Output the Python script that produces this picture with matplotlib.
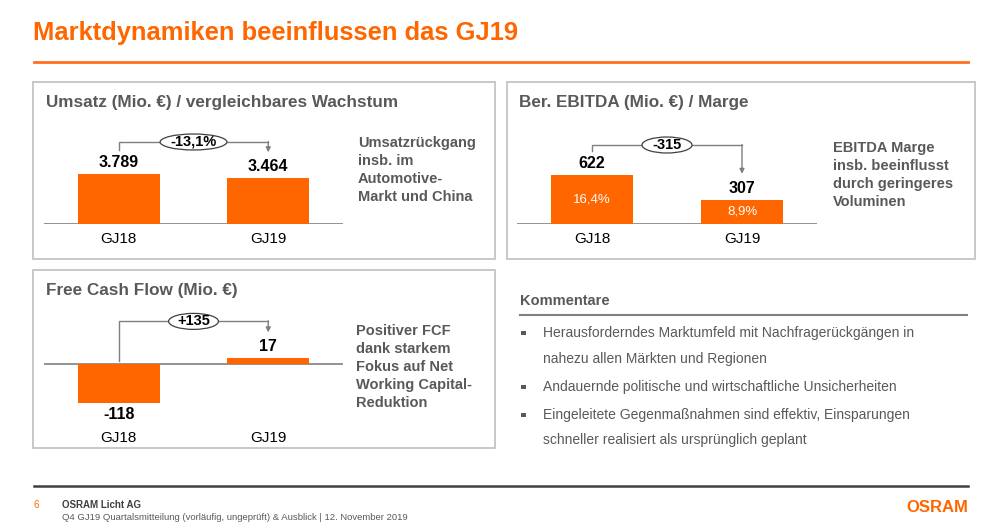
import matplotlib
matplotlib.use("Agg")
import matplotlib.pyplot as plt
from matplotlib.patches import Rectangle, Ellipse
from matplotlib.transforms import blended_transform_factory

plt.rcParams['font.family'] = ['Liberation Sans', 'DejaVu Sans']

# ---------------- data ----------------
categories = ["GJ18", "GJ19"]
umsatz = [3789, 3464]
umsatz_labels = ["3.789", "3.464"]
umsatz_delta = "-13,1%"
ebitda = [622, 307]
ebitda_labels = ["622", "307"]
ebitda_margin = ["16,4%", "8,9%"]
ebitda_delta = "-315"
fcf = [-118, 17]
fcf_labels = ["-118", "17"]
fcf_delta = "+135"

title = "Marktdynamiken beeinflussen das GJ19"
panel_titles = ["Umsatz (Mio. €) / vergleichbares Wachstum",
                "Ber. EBITDA (Mio. €) / Marge",
                "Free Cash Flow (Mio. €)"]
side_texts = [["Umsatzrückgang", "insb. im", "Automotive-", "Markt und China"],
              ["EBITDA Marge", "insb. beeinflusst", "durch geringeres", "Voluminen"],
              ["Positiver FCF", "dank starkem", "Fokus auf Net", "Working Capital-", "Reduktion"]]
komm_title = "Kommentare"
komm_lines = [("Herausforderndes Marktumfeld mit Nachfragerückgängen in", True),
              ("nahezu allen Märkten und Regionen", False),
              ("Andauernde politische und wirtschaftliche Unsicherheiten", True),
              ("Eingeleitete Gegenmaßnahmen sind effektiv, Einsparungen", True),
              ("schneller realisiert als ursprünglich geplant", False)]
footer_page = "6"
footer_company = "OSRAM Licht AG"
footer_sub = "Q4 GJ19 Quartalsmitteilung (vorläufig, ungeprüft) & Ausblick | 12. November 2019"
logo = "OSRAM"

# ---------------- style ----------------
W, H = 1000, 529
ORANGE = "#FF6600"
GRAY_TXT = "#595959"
BOX = "#BFBFBF"
LINE = "#7F7F7F"

fig = plt.figure(figsize=(W / 100, H / 100), dpi=100)
ax0 = fig.add_axes([0, 0, 1, 1])
ax0.set_xlim(0, W)
ax0.set_ylim(H, 0)
ax0.axis('off')

# title + rule
ax0.text(33, 33, title, color=ORANGE, fontsize=18.4, fontweight='bold', va='center', ha='left')
ax0.plot([34, 968], [62, 62], color="#FF7020", lw=2)

# panel boxes
for (x0, y0, x1, y1) in [(33, 82, 495, 259), (507, 82, 975, 259), (33, 270, 495, 448)]:
    ax0.add_patch(Rectangle((x0, y0), x1 - x0, y1 - y0, fill=False, ec=BOX, lw=1.2))

# panel titles
ax0.text(46, 102, panel_titles[0], color=GRAY_TXT, fontsize=12.3, fontweight='bold', va='center')
ax0.text(519, 102, panel_titles[1], color=GRAY_TXT, fontsize=12.3, fontweight='bold', va='center')
ax0.text(46, 290, panel_titles[2], color=GRAY_TXT, fontsize=12.3, fontweight='bold', va='center')

# side texts
for (x, y0, lines) in [(358, 143, side_texts[0]), (833, 148, side_texts[1]), (356, 331, side_texts[2])]:
    for i, ln in enumerate(lines):
        ax0.text(x, y0 + i * 18, ln, color=GRAY_TXT, fontsize=10.5, fontweight='bold', va='center')

# Kommentare
ax0.text(520, 301, komm_title, color=GRAY_TXT, fontsize=10.5, fontweight='bold', va='center')
ax0.plot([520, 967], [315, 315], color=LINE, lw=1.5)
ys = [333, 359, 387, 415, 440]
for y, (ln, bullet) in zip(ys, komm_lines):
    if bullet:
        ax0.add_patch(Rectangle((521, y - 2.5), 4.5, 4.5, color=GRAY_TXT, lw=0))
    ax0.text(543, y, ln, color=GRAY_TXT, fontsize=10, va='center')

# footer
ax0.plot([34, 968], [486, 486], color="#404040", lw=1.8)
ax0.text(34, 505, footer_page, color=ORANGE, fontsize=7, va='center')
ax0.text(62, 505, footer_company, color="#404040", fontsize=7, fontweight='bold', va='center')
ax0.text(62, 517, footer_sub, color=GRAY_TXT, fontsize=6.8, va='center')
ax0.text(968, 508, logo, color=ORANGE, fontsize=12, fontweight='bold', va='center', ha='right')


def chart(left, right, top, bottom, base, px_per_unit, values, labels, delta,
          bracket_top_px, inner=None):
    ax = fig.add_axes([left / W, 1 - bottom / H, (right - left) / W, (bottom - top) / H])
    ax.set_xlim(-0.5, 1.5)
    lo = -(bottom - base) / px_per_unit
    hi = (base - top) / px_per_unit
    ax.set_ylim(lo, hi)
    ax.axis('off')
    ax.patch.set_alpha(0)
    k = 1 / px_per_unit  # data units per pixel
    x = [0, 1]
    ax.bar(x, values, width=0.55, color=ORANGE, zorder=2)
    ax.axhline(0, color="#808080", lw=1.2, zorder=1)
    for xi, v, lab in zip(x, values, labels):
        if v >= 0:
            ax.annotate(lab, (xi, v), xytext=(0, 3), textcoords='offset points',
                        ha='center', va='bottom', fontsize=11.5, fontweight='bold', color='black')
        else:
            ax.annotate(lab, (xi, v), xytext=(0, -3), textcoords='offset points',
                        ha='center', va='top', fontsize=11.5, fontweight='bold', color='black')
    if inner:
        for xi, v, lab in zip(x, values, inner):
            ax.text(xi, v / 2, lab, ha='center', va='center', color='white', fontsize=9.5)
    # category labels
    tr = blended_transform_factory(ax.transData, ax0.transData)
    cat_y = base + 15 if min(values) >= 0 else bottom + 14
    for xi, c in zip(x, categories):
        ax0.text(xi, cat_y, c, transform=tr, ha='center', va='center', fontsize=11, color='black')
    # bracket
    y_start = (values[0] + 24 * k) if values[0] > 0 else 3 * k
    y_top = max(values[0], values[1], 0) + bracket_top_px * k
    y_end = max(values[1], 0) + 26 * k
    ax.plot([0, 0, 1], [y_start, y_top, y_top], color=LINE, lw=1, clip_on=False,
            solid_joinstyle='miter')
    ax.annotate('', xy=(1, y_end), xytext=(1, y_top + 0.5 * k),
                arrowprops=dict(arrowstyle='-|>', color=LINE, lw=1, mutation_scale=7,
                                shrinkA=0, shrinkB=0), annotation_clip=False)
    ew = (len(delta) * 8.5 + 16) / 150
    ax.add_patch(Ellipse((0.5, y_top), ew, 16 * k, fc='white', ec='#404040', lw=0.9,
                         clip_on=False, zorder=3))
    ax.text(0.5, y_top, delta, ha='center', va='center', fontsize=10.5, fontweight='bold',
            color='black', zorder=4)
    return ax


chart(44, 343, 124, 224, 224, 50 / max(umsatz), umsatz, umsatz_labels, umsatz_delta, 32)
chart(517, 817, 124, 224, 224, 49 / max(ebitda), ebitda, ebitda_labels, ebitda_delta, 30,
      inner=ebitda_margin)
chart(44, 343, 304, 424, 364, 39 / abs(min(fcf)), fcf, fcf_labels, fcf_delta, 37)

fig.savefig("out.png", dpi=100)
